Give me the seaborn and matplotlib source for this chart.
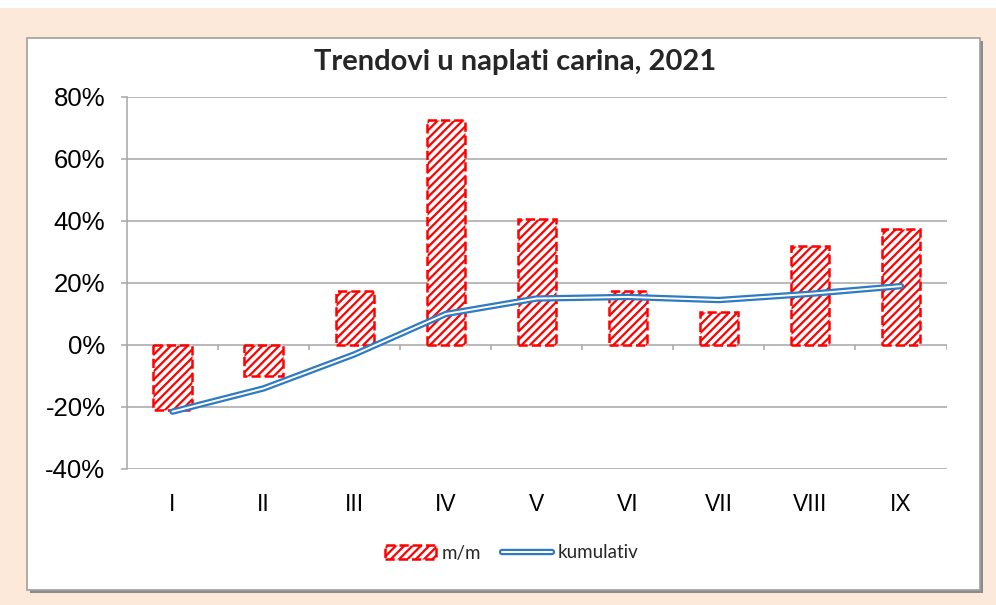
import numpy as np
import pandas as pd
import seaborn as sns
import matplotlib.pyplot as plt
import matplotlib.patheffects as pe
from matplotlib.patches import Rectangle, Patch
from matplotlib.lines import Line2D

# chart data
months = ['I', 'II', 'III', 'IV', 'V', 'VI', 'VII', 'VIII', 'IX']
mm = [-21.0, -10.0, 17.5, 72.5, 40.5, 17.5, 10.5, 32.0, 37.5]
kumulativ = [-21.5, -14.0, -3.0, 10.0, 15.0, 15.5, 14.5, 16.5, 19.0]
y_ticks = [-40, -20, 0, 20, 40, 60, 80]

df = pd.DataFrame({'mjesec': months, 'mm': mm, 'kumulativ': kumulativ})

sns.set_style('white')
plt.rcParams['font.family'] = ['Liberation Sans', 'DejaVu Sans']
plt.rcParams['hatch.linewidth'] = 1.6

W, H = 996, 605
fig = plt.figure(figsize=(W / 100, H / 100), dpi=100, facecolor='#FCE9DA')

# white strip on top, chart box with shadow
fig.patches.append(Rectangle((0, 1 - 8 / H), 1, 8 / H, transform=fig.transFigure,
                             facecolor='white', edgecolor='none', zorder=-3))
fig.patches.append(Rectangle((30 / W, 1 - 593 / H), 953 / W, 552 / H, transform=fig.transFigure,
                             facecolor='#8C8C8C', edgecolor='none', zorder=-2))
fig.patches.append(Rectangle((27 / W, 1 - 590 / H), 953 / W, 552 / H, transform=fig.transFigure,
                             facecolor='white', edgecolor='#A0A0A0', linewidth=1.2, zorder=-1))

ax = fig.add_axes([127 / W, 1 - 469 / H, (946.5 - 127) / W, (469 - 97) / H])
ax.set_facecolor('none')

red = '#FF0000'
blue = '#2E7BC4'

sns.barplot(data=df, x='mjesec', y='mm', ax=ax, width=0.42, facecolor='white',
            edgecolor=red, hatch='////', linewidth=1.8, linestyle='--', zorder=3)

sns.lineplot(data=df, x='mjesec', y='kumulativ', ax=ax, color='white', linewidth=1.4,
             zorder=4, sort=False,
             path_effects=[pe.Stroke(linewidth=4.6, foreground=blue), pe.Normal()])

ax.set_xlim(-0.5, len(months) - 0.5)
ax.set_ylim(-40, 80)
ax.set_yticks(y_ticks)
ax.set_yticklabels([f'{t}%' for t in y_ticks])
ax.set_xlabel('')
ax.set_ylabel('')

grey = '#A6A6A6'
for t in y_ticks:
    ax.axhline(t, color=grey, linewidth=1.1, zorder=1)
# small ticks between categories on the 0 line
ax.vlines(np.arange(len(months) + 1) - 0.5, 0, -1.7, color=grey, linewidth=1.1, zorder=1)

for s in ['top', 'right', 'bottom']:
    ax.spines[s].set_visible(False)
ax.spines['left'].set_color(grey)
ax.spines['left'].set_linewidth(1.1)
ax.tick_params(axis='y', left=True, length=4, width=1.1, color=grey, pad=11.5,
               labelsize=18.5, labelcolor='black')
ax.tick_params(axis='x', bottom=False, length=0, pad=17, labelsize=16.5, labelcolor='black')

fig.text(515 / W, 1 - 62 / H, 'Trendovi u naplati carina, 2021', ha='center', va='center',
         fontsize=21, fontweight='bold', family=['Lato', 'DejaVu Sans'])

handles = [Patch(facecolor='white', edgecolor=red, hatch='////', linestyle='--', linewidth=1.8),
           Line2D([0], [0], color='white', linewidth=1.4,
                  path_effects=[pe.Stroke(linewidth=4.6, foreground=blue), pe.Normal()])]
fig.legend(handles, ['m/m', 'kumulativ'], loc='center', bbox_to_anchor=(512 / W, 1 - 553 / H),
           ncol=2, frameon=False, handlelength=2.7, handletextpad=0.3, columnspacing=1.1,
           prop={'family': ['Lato', 'DejaVu Sans'], 'size': 13.5})

fig.savefig('out.png', dpi=100, facecolor=fig.get_facecolor())
